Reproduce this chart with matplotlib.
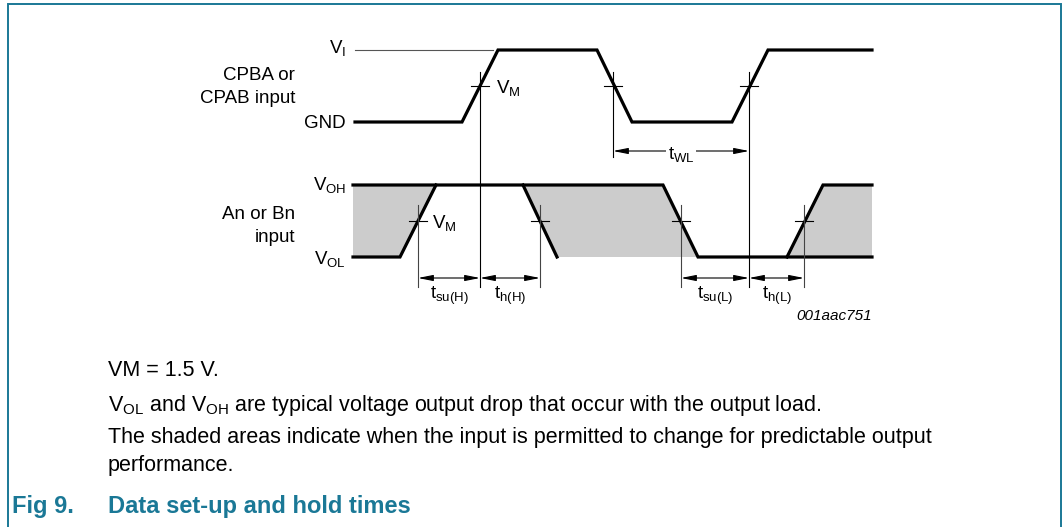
import matplotlib
matplotlib.use("Agg")
import matplotlib.pyplot as plt
from matplotlib.patches import Polygon

plt.rcParams['font.family'] = ['Liberation Sans', 'DejaVu Sans']
plt.rcParams['mathtext.fontset'] = 'custom'
plt.rcParams['mathtext.rm'] = 'Liberation Sans'
plt.rcParams['mathtext.it'] = 'Liberation Sans:italic'

# ---- data (time axis units / level units) ----
# clock (CPBA/CPAB) waveform
clk_t = [355, 462, 498, 597, 632, 732, 768, 872]
clk_v = [122, 122, 50, 50, 122, 122, 50, 50]
clk_vm = [480, 613, 749]          # VM crossings
VI, GND, VM_CLK = 50, 122, 86

# data (An/Bn) waveform
VOH, VOL, VM_DAT = 185, 257, 221
dat_lines = [
    ([353, 663, 698, 872], [VOH, VOH, VOL, VOL]),
    ([353, 400, 436], [VOL, VOL, VOH]),
    ([523, 557], [VOH, VOL]),
    ([787, 823, 872], [VOL, VOH, VOH]),
]
shade_regions = [
    ([353, 436, 400, 353], [VOH, VOH, VOL, VOL]),
    ([523, 663, 698, 557], [VOH, VOH, VOL, VOL]),
    ([823, 872, 872, 787], [VOH, VOH, VOL, VOL]),
]
dat_vm = [418, 540, 681, 804]

# timing spans
spans = [(613, 749, 151, r"t$_{\mathrm{WL}}$"),
         (418, 480, 278, r"t$_{\mathrm{su(H)}}$"),
         (480, 540, 278, r"t$_{\mathrm{h(H)}}$"),
         (681, 749, 278, r"t$_{\mathrm{su(L)}}$"),
         (749, 804, 278, r"t$_{\mathrm{h(L)}}$")]

W, H = 1063, 527
fig = plt.figure(figsize=(W / 100, H / 100), dpi=100)
ax = fig.add_axes([0, 0, 1, 1])
ax.set_xlim(0, W)
ax.set_ylim(H, 0)
ax.axis('off')

teal = '#1a7896'
# frame
ax.plot([8, 8, 1061, 1061], [H, 4, 4, H], color=teal, lw=1.4, solid_joinstyle='miter')

thick = 2.3
thin = 0.8
fs = 13.5

# shaded regions
for xs, ys in shade_regions:
    ax.add_patch(Polygon(list(zip(xs, ys)), closed=True, facecolor='#cccccc',
                         edgecolor='none', zorder=1))

# VI reference
ax.plot([355, 493], [VI, VI], color='#555555', lw=thin, zorder=2)
# clock
ax.plot(clk_t, clk_v, color='black', lw=thick, solid_joinstyle='miter', zorder=3)
for xs, ys in dat_lines:
    ax.plot(xs, ys, color='black', lw=thick, solid_joinstyle='miter', zorder=3)

# crosshairs and verticals
long_v = {480: 287, 613: 157, 749: 287}
for x in clk_vm:
    ax.plot([x - 9, x + 9], [VM_CLK, VM_CLK], color='black', lw=thin, zorder=4)
    ax.plot([x, x], [VM_CLK - 14, long_v[x]], color='black', lw=thin, zorder=4)
for x in dat_vm:
    ax.plot([x - 9, x + 9], [VM_DAT, VM_DAT], color='black', lw=thin, zorder=4)
    ax.plot([x, x], [VM_DAT - 16, 287], color='#444444', lw=thin, zorder=4)

# arrows
for x0, x1, y, lab in spans:
    ax.annotate('', xy=(x0, y), xytext=(x1, y),
                arrowprops=dict(arrowstyle='<|-|>,head_length=0.9,head_width=0.18',
                                color='black', lw=thin, shrinkA=0, shrinkB=0))
    if y == 151:
        xm = (x0 + x1) / 2
        ax.text(xm, y + 3, lab, fontsize=fs, ha='center', va='center',
                bbox=dict(facecolor='white', edgecolor='none', pad=1.5), zorder=5)
    else:
        ax.text((x0 + x1) / 2, y + 18, lab, fontsize=fs, ha='center', va='center')

# VM labels
ax.text(496, 88, r"V$_{\mathrm{M}}$", fontsize=fs, ha='left', va='center')
ax.text(432, 223, r"V$_{\mathrm{M}}$", fontsize=fs, ha='left', va='center')

# level labels
ax.text(346, 48, r"V$_{\mathrm{I}}$", fontsize=fs, ha='right', va='center')
ax.text(346, 124, "GND", fontsize=fs, ha='right', va='center')
ax.text(346, 185, r"V$_{\mathrm{OH}}$", fontsize=fs, ha='right', va='center')
ax.text(346, 259, r"V$_{\mathrm{OL}}$", fontsize=fs, ha='right', va='center')
ax.text(295, 87, "CPBA or\nCPAB input", fontsize=fs, ha='right', va='center',
        linespacing=1.4)
ax.text(295, 226, "An or Bn\ninput", fontsize=fs, ha='right', va='center',
        linespacing=1.4)

ax.text(872, 316, "001aac751", fontsize=11, style='italic', ha='right', va='center')

# notes
body = 15.5
ax.text(108, 370, "VM = 1.5 V.", fontsize=body, va='center')
ax.text(108, 405, r"V$_{\mathrm{OL}}$ and V$_{\mathrm{OH}}$ are typical voltage output drop that occur with the output load.",
        fontsize=body, va='center')
ax.text(108, 438, "The shaded areas indicate when the input is permitted to change for predictable output",
        fontsize=body, va='center')
ax.text(108, 465, "performance.", fontsize=body, va='center')

ax.text(12, 506, "Fig 9.", fontsize=17, fontweight='bold', color=teal, va='center')
ax.text(108, 506, "Data set-up and hold times", fontsize=17, fontweight='bold', color=teal,
        va='center')

fig.savefig("out.png", dpi=100)
